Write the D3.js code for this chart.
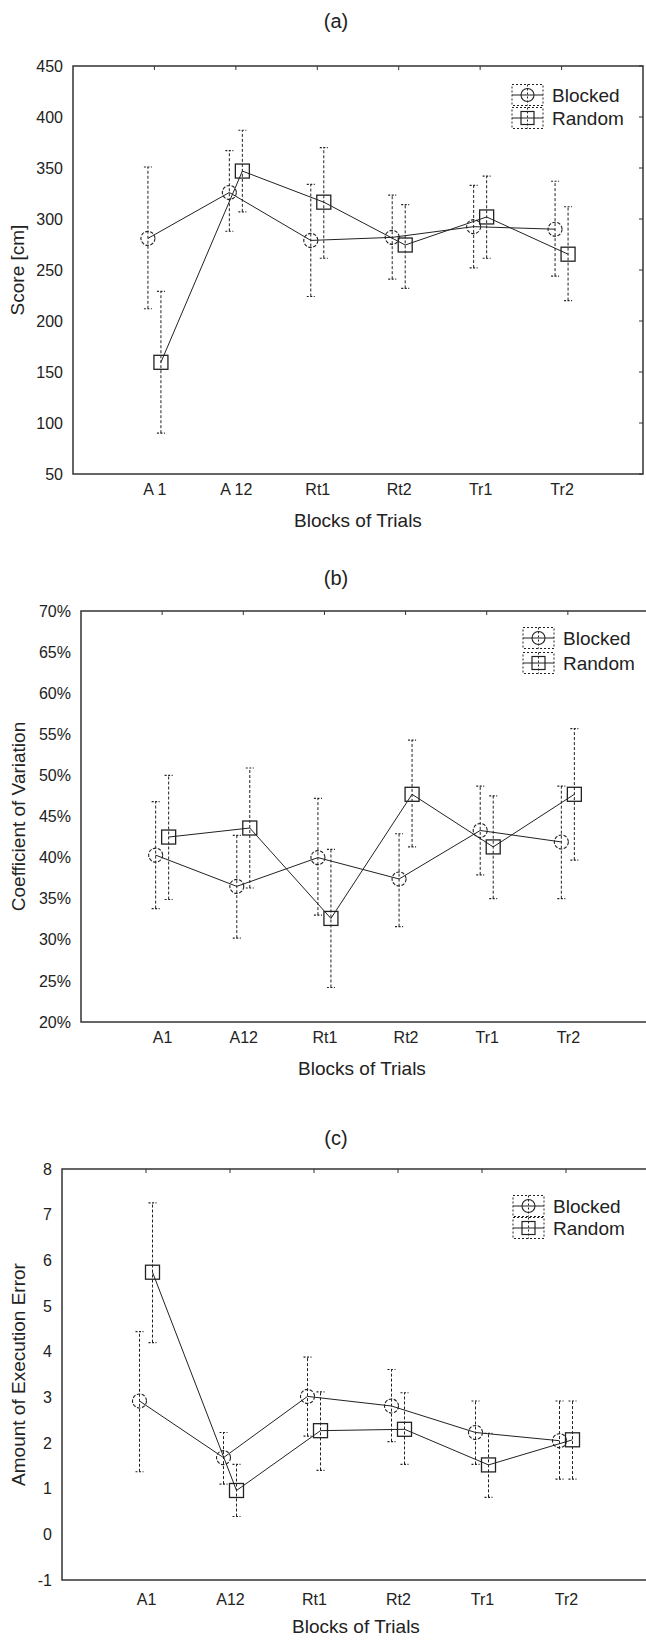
<!DOCTYPE html>
<html><head><meta charset="utf-8">
<script src="https://cdn.jsdelivr.net/npm/d3@7"></script>
<style>
body{margin:0;background:#fff}
svg text{font-family:"Liberation Sans",Arial,sans-serif;fill:#222}
</style>
</head><body>
<svg id="chart" width="646" height="1641"></svg>
<script>
// ---------- data ----------
const catsA = ["A 1", "A 12", "Rt1", "Rt2", "Tr1", "Tr2"];
const catsBC = ["A1", "A12", "Rt1", "Rt2", "Tr1", "Tr2"];
const seriesNames = ["Blocked", "Random"];

const ticksA = [50, 100, 150, 200, 250, 300, 350, 400, 450];
const ticksB = [20, 25, 30, 35, 40, 45, 50, 55, 60, 65, 70];
const ticksC = [-1, 0, 1, 2, 3, 4, 5, 6, 7, 8];

// (a) Score [cm]
const scoreBlocked   = [281, 326, 279, 282, 292.5, 290];
const scoreBlockedLo = [212, 288, 224, 241, 252, 244];
const scoreBlockedHi = [351, 367, 334, 323.5, 333, 337];
const scoreRandom    = [159.5, 347, 316.5, 274.5, 302, 265.5];
const scoreRandomLo  = [90, 307, 261.5, 232, 261.5, 220];
const scoreRandomHi  = [229, 387, 370, 314, 342, 312];

// (b) Coefficient of Variation [%]
const cvBlocked   = [40.3, 36.5, 40.0, 37.4, 43.3, 41.9];
const cvBlockedLo = [33.8, 30.2, 33.0, 31.6, 37.9, 35.0];
const cvBlockedHi = [46.8, 42.7, 47.2, 42.9, 48.7, 48.7];
const cvRandom    = [42.5, 43.6, 32.6, 47.7, 41.3, 47.7];
const cvRandomLo  = [34.9, 36.3, 24.2, 41.3, 35.0, 39.7];
const cvRandomHi  = [50.0, 50.9, 41.0, 54.3, 47.5, 55.7];

// (c) Amount of Execution Error
const errBlocked   = [2.92, 1.68, 3.02, 2.81, 2.23, 2.05];
const errBlockedLo = [1.37, 1.10, 2.15, 2.03, 1.53, 1.21];
const errBlockedHi = [4.44, 2.23, 3.88, 3.61, 2.92, 2.92];
const errRandom    = [5.74, 0.96, 2.27, 2.30, 1.52, 2.07];
const errRandomLo  = [4.20, 0.39, 1.40, 1.53, 0.81, 1.21];
const errRandomHi  = [7.26, 1.53, 3.12, 3.10, 2.21, 2.92];

// ---------- drawing ----------
const svg = d3.select("#chart");
const INK = "#222";

function panel(cfg) {
  const g = svg.append("g");
  const x = d3.scalePoint().domain(cfg.cats).range([cfg.left, cfg.right]).padding(1);
  const y = d3.scaleLinear().domain(d3.extent(cfg.ticks)).range([cfg.bottom, cfg.top]);

  // title
  g.append("text").attr("x", cfg.titleX).attr("y", cfg.titleY)
    .attr("text-anchor", "middle").style("font-size", "20px").text(cfg.title);

  // frame
  g.append("rect").attr("x", cfg.left).attr("y", cfg.top)
    .attr("width", cfg.right - cfg.left).attr("height", cfg.bottom - cfg.top)
    .attr("fill", "none").attr("stroke", "#333").attr("stroke-width", 1.5);

  // y axis labels
  const ya = d3.axisLeft(y).tickValues(cfg.ticks).tickSize(0).tickPadding(10).tickFormat(cfg.fmt);
  const yg = g.append("g").attr("transform", `translate(${cfg.left},0)`).call(ya);
  yg.select(".domain").remove();
  yg.selectAll("text").style("font-size", "16px").style("font-family", "Liberation Sans, Arial, sans-serif").attr("fill", INK);

  // right inner ticks (only when the right edge is inside the page)
  if (cfg.right <= 646) {
    g.append("g").selectAll("line").data(cfg.ticks).join("line")
      .attr("x1", cfg.right).attr("x2", cfg.right - 4)
      .attr("y1", d => y(d)).attr("y2", d => y(d)).attr("stroke", "#333");
  }

  // x axis labels
  const xa = d3.axisBottom(x).tickSize(0).tickPadding(cfg.xPad);
  const xg = g.append("g").attr("transform", `translate(0,${cfg.bottom})`).call(xa);
  xg.select(".domain").remove();
  xg.selectAll("text").style("font-size", "16px").style("font-family", "Liberation Sans, Arial, sans-serif").attr("fill", INK);

  // top inner ticks
  g.append("g").selectAll("line").data(cfg.cats).join("line")
    .attr("x1", d => x(d)).attr("x2", d => x(d))
    .attr("y1", cfg.top).attr("y2", cfg.top + 4).attr("stroke", "#333");

  // axis titles
  g.append("text").attr("x", (cfg.left + cfg.xTitleCenterRight) / 2).attr("y", cfg.bottom + 53)
    .attr("text-anchor", "middle").style("font-size", "19px").text("Blocks of Trials");
  g.append("text").attr("transform", `translate(${cfg.yTitleX},${(cfg.top + cfg.bottom) / 2}) rotate(-90)`)
    .attr("text-anchor", "middle").attr("dy", "0.35em").style("font-size", "19px").text(cfg.yTitle);

  const offs = [-6.5, 6.5];
  cfg.series.forEach((s, si) => {
    const px = i => x(cfg.cats[i]) + offs[si];
    const idx = d3.range(cfg.cats.length);
    // error bars
    const eb = g.append("g");
    eb.selectAll("line.v").data(idx).join("line").attr("class", "v")
      .attr("x1", px).attr("x2", px).attr("y1", i => y(s.lo[i])).attr("y2", i => y(s.hi[i]))
      .attr("stroke", INK).attr("stroke-width", 1).attr("stroke-dasharray", "3,2");
    ["lo", "hi"].forEach(k => {
      eb.selectAll("line.c" + k).data(idx).join("line").attr("class", "c" + k)
        .attr("x1", i => px(i) - 4).attr("x2", i => px(i) + 4)
        .attr("y1", i => y(s[k][i])).attr("y2", i => y(s[k][i]))
        .attr("stroke", INK).attr("stroke-width", 1.2).attr("stroke-dasharray", "2,1.5");
    });
    // series line
    g.append("path").datum(idx)
      .attr("d", d3.line().x(px).y(i => y(s.mean[i])))
      .attr("fill", "none").attr("stroke", INK).attr("stroke-width", 1);
    // markers
    if (si === 0) {
      g.append("g").selectAll("circle").data(idx).join("circle")
        .attr("cx", px).attr("cy", i => y(s.mean[i])).attr("r", 7)
        .attr("fill", "none").attr("stroke", INK).attr("stroke-width", 1.1).attr("stroke-dasharray", "3.5,1.5");
    } else {
      g.append("g").selectAll("rect").data(idx).join("rect")
        .attr("x", i => px(i) - 7).attr("y", i => y(s.mean[i]) - 7)
        .attr("width", 14).attr("height", 14)
        .attr("fill", "none").attr("stroke", INK).attr("stroke-width", 1.3);
    }
  });

  // legend
  const lg = g.append("g");
  seriesNames.forEach((name, si) => {
    const cy = cfg.legY[si];
    const x0 = cfg.legX, w = 31, h = 21, cx = x0 + w / 2;
    lg.append("rect").attr("x", x0).attr("y", cy - h / 2).attr("width", w).attr("height", h)
      .attr("fill", "none").attr("stroke", INK).attr("stroke-width", 1).attr("stroke-dasharray", "2,2");
    lg.append("line").attr("x1", cx).attr("x2", cx).attr("y1", cy - h / 2).attr("y2", cy + h / 2)
      .attr("stroke", INK).attr("stroke-dasharray", "2,2");
    lg.append("line").attr("x1", x0).attr("x2", x0 + w).attr("y1", cy).attr("y2", cy)
      .attr("stroke", INK).attr("stroke-width", 1);
    if (si === 0) {
      lg.append("circle").attr("cx", cx).attr("cy", cy).attr("r", 6.5)
        .attr("fill", "none").attr("stroke", INK).attr("stroke-width", 1.1);
    } else {
      lg.append("rect").attr("x", cx - 6.5).attr("y", cy - 6.5).attr("width", 13).attr("height", 13)
        .attr("fill", "none").attr("stroke", INK).attr("stroke-width", 1.2);
    }
    lg.append("text").attr("x", x0 + w + 9).attr("y", cy).attr("dy", "0.35em")
      .style("font-size", "19px").text(name);
  });
}

panel({
  title: "(a)", titleX: 336, titleY: 28,
  left: 73, right: 643, top: 66, bottom: 474, xPad: 10, xTitleCenterRight: 643,
  cats: catsA, ticks: ticksA, fmt: d => String(d),
  yTitle: "Score [cm]", yTitleX: 17,
  legX: 512, legY: [95, 118],
  series: [
    { mean: scoreBlocked, lo: scoreBlockedLo, hi: scoreBlockedHi },
    { mean: scoreRandom, lo: scoreRandomLo, hi: scoreRandomHi }
  ]
});

panel({
  title: "(b)", titleX: 336, titleY: 585,
  left: 81, right: 649, top: 611, bottom: 1022, xPad: 10, xTitleCenterRight: 643,
  cats: catsBC, ticks: ticksB, fmt: d => d + "%",
  yTitle: "Coefficient of Variation", yTitleX: 18,
  legX: 523, legY: [638, 663],
  series: [
    { mean: cvBlocked, lo: cvBlockedLo, hi: cvBlockedHi },
    { mean: cvRandom, lo: cvRandomLo, hi: cvRandomHi }
  ]
});

panel({
  title: "(c)", titleX: 336, titleY: 1145,
  left: 62, right: 650, top: 1169, bottom: 1580, xPad: 14, xTitleCenterRight: 650,
  cats: catsBC, ticks: ticksC, fmt: d => String(d),
  yTitle: "Amount of Execution Error", yTitleX: 18,
  legX: 513, legY: [1206, 1228],
  series: [
    { mean: errBlocked, lo: errBlockedLo, hi: errBlockedHi },
    { mean: errRandom, lo: errRandomLo, hi: errRandomHi }
  ]
});
</script>
</body></html>
